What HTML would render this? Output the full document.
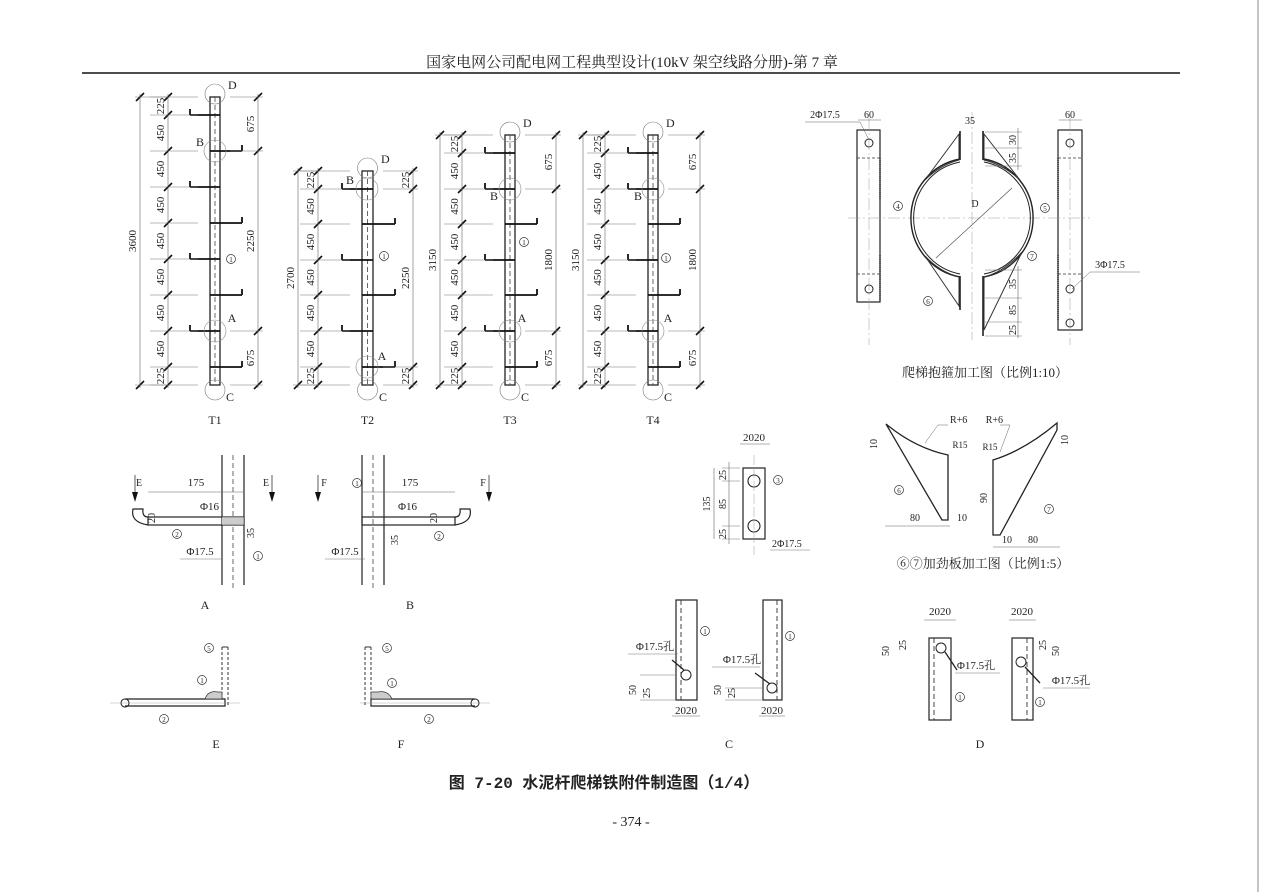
<!DOCTYPE html>
<html><head><meta charset="utf-8"><style>
html,body{margin:0;padding:0;background:#fff;}
svg{display:block;}
text{font-family:"Liberation Serif","Noto Serif CJK SC",serif;fill:#222;}
.s{font-family:"Liberation Mono","Noto Sans CJK SC",monospace;}
</style></head><body>
<svg id="d" width="1262" height="892" viewBox="0 0 1262 892" xmlns="http://www.w3.org/2000/svg">
<rect width="1262" height="892" fill="#fff"/>
<line x1="1258" y1="0" x2="1258" y2="892" stroke="#888" stroke-width="1"/>
<text x="632" y="67" font-size="15" text-anchor="middle">国家电网公司配电网工程典型设计(10kV 架空线路分册)-第 7 章</text>
<line x1="82" y1="73" x2="1180" y2="73" stroke="#111" stroke-width="1.5"/>
<text x="604" y="788" font-size="16" text-anchor="middle" class="s" font-weight="bold">图 7-20 水泥杆爬梯铁附件制造图（1/4）</text>
<text x="631" y="826" font-size="14" text-anchor="middle">- 374 -</text>
<g id="g" fill="none" stroke="#333" stroke-width="1"></g>
<g id="t" font-size="11"></g>
</svg>
<script>
const g=document.getElementById('g'),T=document.getElementById('t');
function el(tag,a,par){const e=document.createElementNS('http://www.w3.org/2000/svg',tag);for(const k in a)e.setAttribute(k,a[k]);(par||g).appendChild(e);return e;}
function L(x1,y1,x2,y2,w,c,da){el('line',{x1,y1,x2,y2,'stroke-width':w||0.8,stroke:c||'#333','stroke-dasharray':da||''});}
function tx(x,y,s,fs,rot,anc){const e=el('text',{x,y,'font-size':fs||11,'text-anchor':anc||'middle',transform:rot?`rotate(-90 ${x} ${y})`:''},T);e.textContent=s;}
function circ(x,y,r,w,c){el('circle',{cx:x,cy:y,r,'stroke-width':w||0.8,stroke:c||'#333',fill:'none'});}
function tick(x,y){L(x-4,y+4,x+4,y-4,1.6,'#111');}
function num(x,y,n){circ(x,y,4.5,0.7);tx(x,y+3,n,7);}
function vdim(x,ys,labels,e1,e2,left){L(x,ys[0]-3,x,ys[ys.length-1]+3,0.6,'#666');ys.forEach(y=>{tick(x,y);L(e1,y,e2,y,0.6,'#777');});
 for(let i=0;i<labels.length;i++){const m=(ys[i]+ys[i+1])/2;tx(x-4,m,labels[i],11,true);}}
function pole(x1,x2,top,bot,steps,ld,lt,rd,rticks,rlab,tot,name){
 el('rect',{x:x1,y:top,width:x2-x1,height:bot-top,'stroke-width':1.3,stroke:'#222'});
 L((x1+x2)/2,top,(x1+x2)/2,bot,0.8,'#444','5 3');
 steps.forEach(([y,s])=>{if(s<0){L(x1-20,y,x2,y,1.8,'#111');L(x1-20,y,x1-20,y-6,1.8,'#111');}else{L(x1,y,x2+22,y,1.8,'#111');L(x2+22,y,x2+22,y-6,1.8,'#111');}});
 const ys=[top].concat(steps.map(s=>s[0]).slice()).concat([bot]).sort((a,b)=>a-b);
 const labs=[];for(let i=0;i<ys.length-1;i++)labs.push(i==0||i==ys.length-2?'225':'450');
 vdim(ld,ys,labs,ld-18,x1-12);
 L(lt,top-3,lt,bot+3,0.6,'#666');tick(lt,top);tick(lt,bot);L(lt-5,top,ld,top,0.6,'#777');L(lt-5,bot,ld,bot,0.6,'#777');
 tx(lt-4,(top+bot)/2,tot,11,true);
 L(rd,rticks[0]-3,rd,rticks[rticks.length-1]+3,0.6,'#666');rticks.forEach(y=>{tick(rd,y);L(x2+10,y,rd+5,y,0.6,'#777');});
 for(let i=0;i<rlab.length;i++)tx(rd-4,(rticks[i]+rticks[i+1])/2,rlab[i],11,true);
 circ((x1+x2)/2,top-3,10,0.6,'#777');tx(x2+8,top-8,'D',12,false,'start');
 circ((x1+x2)/2,bot+5,10,0.6,'#777');tx(x2+6,bot+16,'C',12,false,'start');
 tx((x1+x2)/2,424,name,12);
}
pole(210,220,97,385,[[115,-1],[151,1],[187,-1],[223,1],[259,-1],[295,1],[331,-1],[367,1]],168,140,258,[97,151,331,385],['675','2250','675'],'3600','T1');
circ(215,151,11,0.6,'#888');tx(200,146,'B',12);circ(215,331,11,0.6,'#888');tx(232,322,'A',12);num(231,259,'1');
pole(362,373,171,385,[[189,-1],[224,1],[260,-1],[295,1],[331,-1],[367,1]],318,298,413,[171,189,367,385],['225','2250','225'],'2700','T2');
circ(367,189,11,0.6,'#888');tx(350,184,'B',12);circ(367,367,11,0.6,'#888');tx(382,360,'A',12);num(384,256,'1');
pole(505,515,135,385,[[153,-1],[189,-1],[224,1],[260,-1],[295,1],[331,-1],[367,1]],462,440,556,[135,189,331,385],['675','1800','675'],'3150','T3');
circ(510,189,11,0.6,'#888');tx(494,200,'B',12);circ(510,331,11,0.6,'#888');tx(522,322,'A',12);num(524,242,'1');
pole(648,658,135,385,[[153,-1],[189,-1],[224,1],[260,-1],[295,1],[331,-1],[367,1]],605,583,700,[135,189,331,385],['675','1800','675'],'3150','T4');
circ(653,189,11,0.6,'#888');tx(638,200,'B',12);circ(653,331,11,0.6,'#888');tx(668,322,'A',12);num(666,258,'1');

// hoop
el('rect',{x:857,y:130,width:23,height:172,'stroke-width':1.2,stroke:'#222'});
el('rect',{x:1058,y:130,width:24,height:200,'stroke-width':1.2,stroke:'#222'});
[[869,143],[869,289],[1070,143],[1070,289],[1070,323]].forEach(p=>circ(p[0],p[1],4,1,'#222'));
L(857,158,880,158,0.8,'#333','3 2');L(857,274,880,274,0.8,'#333','3 2');L(1058,158,1082,158,0.8,'#333','3 2');L(1058,274,1082,274,0.8,'#333','3 2');
L(880,158,880,200,2,'#555','1 1');L(880,255,880,300,2,'#555','1 1');L(1058,158,1058,200,2,'#555','1 1');L(1058,255,1058,320,2,'#555','1 1');
L(869,118,869,345,0.5,'#999','12 3 2 3');L(1070,118,1070,345,0.5,'#999','12 3 2 3');
L(848,218,1090,218,0.5,'#999','12 3 2 3');L(972,112,972,340,0.5,'#999','12 3 2 3');
el('path',{d:'M960 159 A60 60 0 0 0 960 277 M984 159 A60 60 0 0 1 984 277','stroke-width':1.4,stroke:'#222'});
el('path',{d:'M960 162 A57 57 0 0 0 960 274 M984 162 A57 57 0 0 1 984 274','stroke-width':1,stroke:'#222'});
L(960,131,960,160,1.6,'#222');L(983,131,983,160,1.6,'#222');L(960,276,960,310,1.6,'#222');L(983,276,983,336,1.6,'#222');
el('path',{d:'M959 134 L925 180 Q940 165 959 160 Z M984 134 L1020 180 Q1004 165 984 160 Z M959 306 L925 256 Q940 272 959 277 Z M984 330 L1022 252 Q1004 272 984 277 Z','stroke-width':1,stroke:'#333'});
L(936,258,1012,188,0.6,'#444');tx(975,207,'D',10);
L(858,120,881,120,0.6,'#666');tx(869,118,'60',10);tx(1070,118,'60',10);L(1059,120,1082,120,0.6,'#666');
tx(825,118,'2Φ17.5',10);L(805,122,860,122,0.5,'#666');L(860,122,869,140,0.5,'#666');
tx(1110,268,'3Φ17.5',10);L(1090,272,1140,272,0.5,'#666');L(1090,272,1072,289,0.5,'#666');
tx(970,124,'35',10);L(985,132,1022,132,0.5,'#777');L(985,148,1022,148,0.5,'#777');L(985,166,1022,166,0.5,'#777');L(1018,128,1018,170,0.6,'#666');tx(1016,140,'30',10,true);tx(1016,158,'35',10,true);
L(985,270,1022,270,0.5,'#777');L(985,298,1022,298,0.5,'#777');L(985,322,1022,322,0.5,'#777');L(985,336,1022,336,0.5,'#777');L(1018,266,1018,338,0.6,'#666');
tx(1016,284,'35',10,true);tx(1016,310,'85',10,true);tx(1016,330,'25',10,true);
num(898,206,'4');num(1045,208,'5');num(928,301,'6');num(1032,256,'7');
tx(985,377,'爬梯抱箍加工图（比例1:10）',13);

el('path',{d:'M886 424 Q915 448 948 455 L948 520 L942 520 Z','stroke-width':1.3,stroke:'#222'});
el('path',{d:'M993 460 Q1025 450 1057 423 L1057 430 L1000 535 L993 535 Z','stroke-width':1.3,stroke:'#222'});
tx(950,423,'R+6',10,false,'start');L(938,425,948,425,0.5,'#666');L(938,425,925,443,0.5,'#666');
tx(1003,423,'R+6',10,false,'end');L(1000,425,1010,425,0.5,'#666');L(1010,425,1000,452,0.5,'#666');
tx(960,448,'R15',9);tx(990,450,'R15',9);
tx(877,444,'10',10,true);tx(1068,440,'10',10,true);tx(987,498,'90',10,true);
L(885,526,950,526,0.6,'#666');tx(915,521,'80',10);tx(962,521,'10',10);
L(993,547,1060,547,0.6,'#666');tx(1033,543,'80',10);tx(1007,543,'10',10);
num(899,490,'6');num(1049,509,'7');
tx(983,568,'⑥⑦加劲板加工图（比例1:5）',13);

el('rect',{x:743,y:468,width:22,height:71,'stroke-width':1.2,stroke:'#222'});circ(754,481,6,1.1,'#222');circ(754,526,6,1.1,'#222');
L(754,455,754,555,0.5,'#999','10 3');tx(754,441,'2020',11);L(740,444,770,444,0.6,'#666');
L(722,468,740,468,0.5,'#777');L(722,481,740,481,0.5,'#777');L(722,526,740,526,0.5,'#777');L(722,539,740,539,0.5,'#777');
L(729,462,729,544,0.6,'#666');L(714,468,714,539,0.6,'#666');tx(726,475,'25',10,true);tx(726,504,'85',10,true);tx(726,534,'25',10,true);tx(710,504,'135',10,true);
num(778,480,'3');tx(772,547,'2Φ17.5',10,false,'start');L(770,550,810,550,0.5,'#777');

function strip(x,y1,y2,w,dl){el('rect',{x,y:y1,width:w,height:y2-y1,'stroke-width':1.2,stroke:'#222'});L(x+dl,y1,x+dl,y2,0.9,'#333','5 3');}
strip(676,600,700,21,5);strip(763,600,700,19,14);
circ(686,675,5,1,'#222');circ(772,688,5,1,'#222');
num(705,631,'1');num(790,636,'1');
tx(655,650,'Φ17.5孔',11);L(628,654,678,654,0.5,'#777');L(672,660,684,670,1.3,'#222');
tx(742,663,'Φ17.5孔',11);L(712,667,760,667,0.5,'#777');L(755,673,770,684,1.3,'#222');
tx(636,690,'50',10,true);tx(650,693,'25',10,true);tx(721,690,'50',10,true);tx(735,693,'25',10,true);
L(640,675,676,675,0.5,'#777');L(640,700,676,700,0.5,'#777');L(725,688,763,688,0.5,'#777');L(725,700,763,700,0.5,'#777');
tx(686,714,'2020',11);tx(772,714,'2020',11);L(672,716,700,716,0.6,'#666');L(759,716,785,716,0.6,'#666');
tx(729,748,'C',12);
strip(929,638,720,22,5);strip(1012,638,720,21,15);
circ(941,648,5,1,'#222');circ(1021,662,5,1,'#222');
tx(976,669,'Φ17.5孔',11);L(955,673,1000,673,0.5,'#777');L(945,652,957,670,1.3,'#222');
tx(1071,684,'Φ17.5孔',11);L(1043,688,1090,688,0.5,'#777');L(1025,667,1040,683,1.3,'#222');
num(960,697,'1');num(1040,702,'1');
tx(940,615,'2020',11);tx(1022,615,'2020',11);L(924,620,956,620,0.6,'#666');L(1009,620,1036,620,0.6,'#666');
tx(889,651,'50',10,true);tx(906,645,'25',10,true);tx(1059,651,'50',10,true);tx(1046,645,'25',10,true);
tx(980,748,'D',12);

function detail(px,stepx1,stepx2,hookLeft,name){
 L(px,455,px,585,1.2,'#222');L(px+22,455,px+22,585,1.2,'#222');L(px+11,455,px+11,590,0.8,'#444','5 3');
 el('rect',{x:stepx1,y:517,width:stepx2-stepx1,height:8,'stroke-width':1.2,stroke:'#222'});
 if(hookLeft)el('path',{d:`M${stepx1} 525 Q${stepx1-18} 522 ${stepx1-15} 509 L${stepx1-5} 509 Q${stepx1-6} 517 ${stepx1} 517`,'stroke-width':1.2,stroke:'#222'});
 else el('path',{d:`M${stepx2} 525 Q${stepx2+18} 522 ${stepx2+15} 509 L${stepx2+5} 509 Q${stepx2+6} 517 ${stepx2} 517`,'stroke-width':1.2,stroke:'#222'});
 tx(name[0],609,name[1],12);
}
detail(222,148,244,true,[205,'A']);
el('path',{d:'M222 517 L244 517 L244 525 L222 525',fill:'#ccc',stroke:'#333','stroke-width':0.5});
tx(196,486,'175',11);L(148,492,244,492,0.6,'#666');tx(200,510,'Φ16',11,false,'start');
tx(200,555,'Φ17.5',11);L(180,559,222,559,0.5,'#777');num(177,534,'2');num(258,556,'1');tx(155,518,'20',10,true);tx(254,533,'35',10,true);
L(135,475,135,495,0.8);el('path',{d:'M132 492 L135 502 L138 492 Z',fill:'#111',stroke:'none'});tx(139,486,'E',10);
L(272,475,272,495,0.8);el('path',{d:'M269 492 L272 502 L275 492 Z',fill:'#111',stroke:'none'});tx(266,486,'E',10);
detail(362,362,455,false,[410,'B']);
tx(410,486,'175',11);L(362,492,455,492,0.6,'#666');tx(398,510,'Φ16',11,false,'start');
tx(345,555,'Φ17.5',11);L(325,559,365,559,0.5,'#777');num(439,536,'2');num(357,483,'1');tx(437,518,'20',10,true);tx(398,540,'35',10,true);
L(318,475,318,495,0.8);el('path',{d:'M315 492 L318 502 L321 492 Z',fill:'#111',stroke:'none'});tx(324,486,'F',10);
L(489,475,489,495,0.8);el('path',{d:'M486 492 L489 502 L492 492 Z',fill:'#111',stroke:'none'});tx(483,486,'F',10);

el('path',{d:'M125 699 L225 699 L225 706 L125 706','stroke-width':1.2,stroke:'#222'});circ(125,703,4,1.1,'#222');
L(222,647,222,699,1,'#333','3 2');L(228,647,228,706,1,'#333','3 2');L(222,647,228,647,1);
el('path',{d:'M205 699 Q208 690 218 692 L222 692 L222 699 Z',fill:'#ccc',stroke:'#333','stroke-width':0.7});
L(110,703,240,703,0.4,'#999');num(164,719,'2');num(202,680,'1');num(209,648,'5');tx(216,748,'E',12);
el('path',{d:'M475 699 L371 699 L371 706 L475 706','stroke-width':1.2,stroke:'#222'});circ(475,703,4,1.1,'#222');
L(365,647,365,706,1,'#333','3 2');L(371,647,371,699,1,'#333','3 2');L(365,647,371,647,1);
el('path',{d:'M371 699 L371 692 L378 692 Q388 690 392 699 Z',fill:'#ccc',stroke:'#333','stroke-width':0.7});
L(360,703,490,703,0.4,'#999');num(429,719,'2');num(392,683,'1');num(387,648,'5');tx(401,748,'F',12);
</script>
</body></html>
